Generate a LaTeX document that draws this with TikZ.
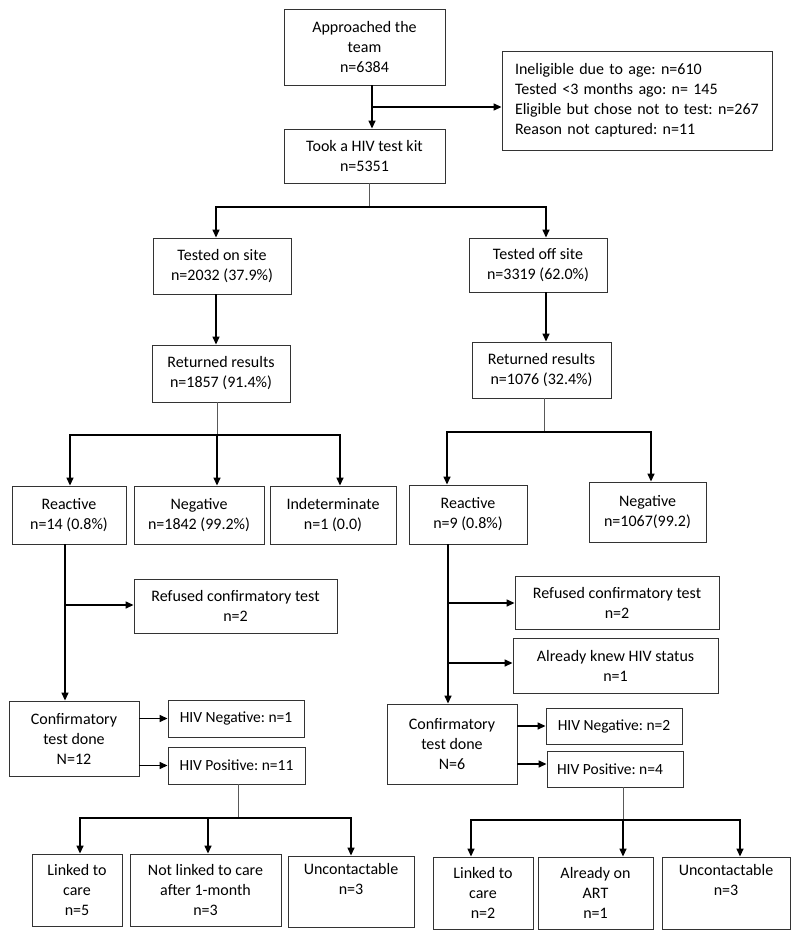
\documentclass[tikz,border=0pt]{standalone}
\usepackage{fontspec}
\setmainfont{Carlito}
\usetikzlibrary{arrows.meta}
\frenchspacing
\begin{document}
\begin{tikzpicture}[x=1pt,y=-1pt,
  box/.style={draw=black!80, line width=0.9pt, rectangle, inner sep=0pt, align=center,
    font=\fontsize{16}{20}\selectfont},
  sbox/.style={box, font=\fontsize{15.5}{18}\selectfont},
  arr/.style={draw=black, line width=1.4pt, -{Triangle[length=8pt,width=7pt]}},
  arrb/.style={draw=black, line width=1.4pt, {Triangle[length=8pt,width=7pt]}-{Triangle[length=8pt,width=7pt]}},
  tline/.style={draw=black!65, line width=0.8pt}]
\useasboundingbox (0,0) rectangle (800,939);
\fill[white] (0,0) rectangle (800,939);
% boxes
\node[box, minimum width=161pt, minimum height=76pt] (appr) at (364.5,47) {Approached the\\team\\n=6384};
\node[box, minimum width=270pt, minimum height=99pt, align=left, text width=244pt] (excl) at (637,100.5)
  {Ineligible due to age: n=610\\Tested <3 months ago: n= 145\\Eligible but chose not to test: n=267\\Reason not captured: n=11};
\node[box, minimum width=161pt, minimum height=54pt] (took) at (364.5,156) {Took a HIV test kit\\n=5351};
\node[box, minimum width=138pt, minimum height=56pt] (onsite) at (222,266) {Tested on site\\n=2032 (37.9\%)};
\node[box, minimum width=138pt, minimum height=54pt] (offsite) at (538,265) {Tested off site\\n=3319 (62.0\%)};
\node[box, minimum width=138pt, minimum height=57pt] (retL) at (221,373.5) {Returned results\\n=1857 (91.4\%)};
\node[box, minimum width=139pt, minimum height=56pt] (retR) at (541.5,370) {Returned results\\n=1076 (32.4\%)};
\node[box, minimum width=114pt, minimum height=58pt] (reacL) at (69,515) {Reactive\\n=14 (0.8\%)};
\node[box, minimum width=130pt, minimum height=58pt] (negL) at (199,515) {Negative\\n=1842 (99.2\%)};
\node[box, minimum width=126pt, minimum height=58pt] (indet) at (333,515) {Indeterminate\\n=1 (0.0)};
\node[box, minimum width=118pt, minimum height=59pt] (reacR) at (468,514.5) {Reactive\\n=9 (0.8\%)};
\node[box, minimum width=117pt, minimum height=60pt] (negR) at (647.5,512) {Negative\\n=1067(99.2)};
\node[box, minimum width=203pt, minimum height=54pt] (refL) at (235.5,606) {Refused confirmatory test\\n=2};
\node[box, minimum width=204pt, minimum height=53pt] (refR) at (617,602.5) {Refused confirmatory test\\n=2};
\node[box, minimum width=205pt, minimum height=55pt] (knew) at (615.5,665.5) {Already knew HIV status\\n=1};
\node[box, minimum width=130pt, minimum height=75pt] (confL) at (74,738.5) {Confirmatory\\test done\\N=12};
\node[box, minimum width=130pt, minimum height=80pt] (confR) at (452,744) {Confirmatory\\test done\\N=6};
\node[sbox, minimum width=136pt, minimum height=37pt] (hnegL) at (236,718.5) {HIV Negative: n=1};
\node[sbox, minimum width=137pt, minimum height=37pt] (hposL) at (236.5,765.5) {HIV Positive: n=11};
\node[sbox, minimum width=136pt, minimum height=36pt] (hnegR) at (614,726) {HIV Negative: n=2};
\node[sbox, minimum width=136pt, minimum height=36pt] (hposR) at (615,769) {HIV Positive: n=4\hspace{10pt}};
\node[box, minimum width=90pt, minimum height=72pt] (linkL) at (77,890) {Linked to\\care\\n=5};
\node[box, minimum width=151pt, minimum height=72pt] (notl) at (205.5,890) {Not linked to care\\after 1-month\\n=3};
\node[box, minimum width=126pt, minimum height=71pt] (uncL) at (351,891.5) {Uncontactable\\n=3\\\strut};
\node[box, minimum width=100pt, minimum height=72pt] (linkR) at (483,893) {Linked to\\care\\n=2};
\node[box, minimum width=115pt, minimum height=72pt] (art) at (595.5,893) {Already on\\ART\\n=1};
\node[box, minimum width=128pt, minimum height=72pt] (uncR) at (726,893) {Uncontactable\\n=3\\\strut};
% junction coordinates
\coordinate (ja) at (372,107);
\coordinate (jb) at (369,207);
\coordinate (jbl) at (216,207);
\coordinate (jbr) at (546,207);
\coordinate (jc) at (217,435);
\coordinate (jcl) at (70,435);
\coordinate (jcr) at (340,435);
\coordinate (jd) at (544,432);
\coordinate (jdl) at (447,432);
\coordinate (jdr) at (651,432);
\coordinate (je) at (65,605);
\coordinate (jf1) at (448,603);
\coordinate (jf2) at (448,663);
\coordinate (jg) at (238,818);
\coordinate (jgl) at (80,818);
\coordinate (jgm) at (208,818);
\coordinate (jgr) at (351,818);
\coordinate (jh) at (623,820);
\coordinate (jhl) at (471,820);
\coordinate (jhr) at (740,820);
% connectors
\draw[arr] (ja |- appr.south) -- (ja |- took.north);
\draw[arr] (ja) -- (ja -| excl.west);
\draw[tline] (jb |- took.south) -- (jb);
\draw[arrb] (jbl |- onsite.north) -- (jbl) -- (jbr) -- (jbr |- offsite.north);
\draw[arr] (jbl |- onsite.south) -- (jbl |- retL.north);
\draw[arr] (jbr |- offsite.south) -- (jbr |- retR.north);
\draw[tline] (jc |- retL.south) -- (jc);
\draw[arrb] (jcl |- reacL.north) -- (jcl) -- (jcr) -- (jcr |- indet.north);
\draw[arr] (jc) -- (jc |- negL.north);
\draw[tline] (jd |- retR.south) -- (jd);
\draw[arrb] (jdl |- reacR.north) -- (jdl) -- (jdr) -- (jdr |- negR.north);
\draw[arr] (je |- reacL.south) -- (je |- confL.north);
\draw[arr] (je) -- (je -| refL.west);
\draw[arr] (jf1 |- reacR.south) -- (jf1 |- confR.north);
\draw[arr] (jf1) -- (jf1 -| refR.west);
\draw[arr] (jf2) -- (jf2 -| knew.west);
\draw[arr] (confL.east |- hnegL.west) -- (hnegL.west);
\draw[arr] (confL.east |- hposL.west) -- (hposL.west);
\draw[arr] (confR.east |- hnegR.west) -- (hnegR.west);
\draw[arr] ([yshift=5pt]confR.east |- hposR.west) -- ([yshift=5pt]hposR.west);
\draw[tline] (jg |- hposL.south) -- (jg);
\draw[arrb] (jgl |- linkL.north) -- (jgl) -- (jgr) -- (jgr |- uncL.north);
\draw[arr] (jgm) -- (jgm |- notl.north);
\draw[tline] (jh |- hposR.south) -- (jh);
\draw[arrb] (jhl |- linkR.north) -- (jhl) -- (jhr) -- (jhr |- uncR.north);
\draw[arr] (jh) -- (jh |- art.north);
\end{tikzpicture}
\end{document}
